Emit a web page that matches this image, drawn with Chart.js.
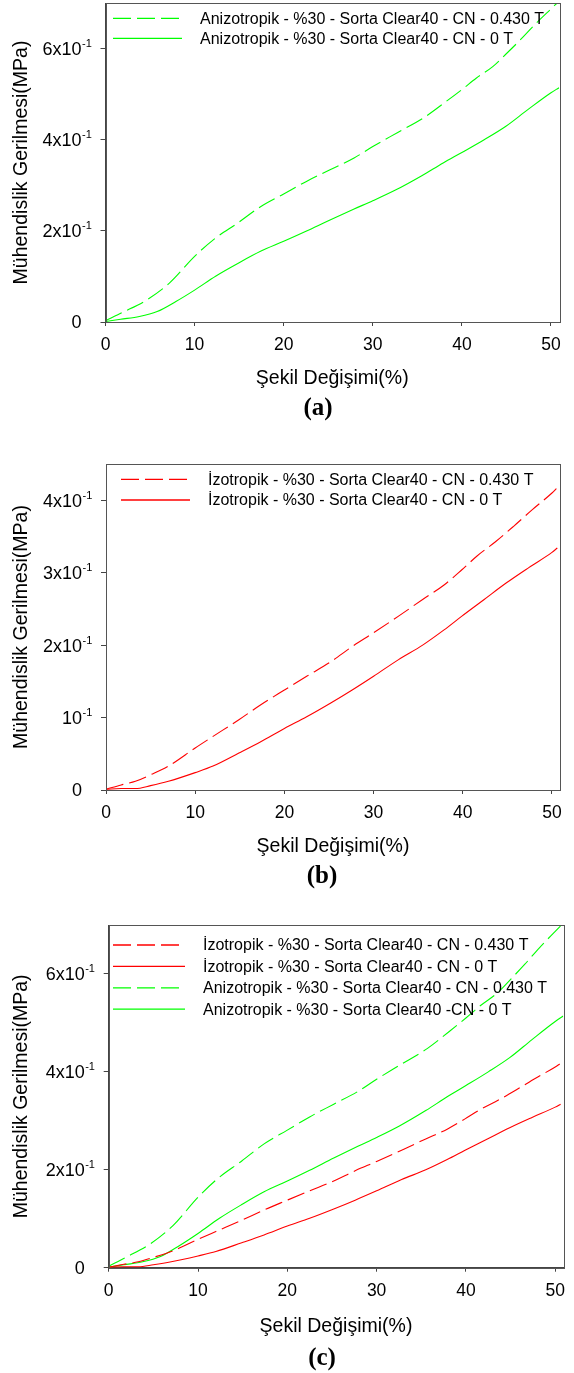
<!DOCTYPE html>
<html>
<head>
<meta charset="utf-8">
<script src="https://cdn.jsdelivr.net/npm/chart.js@4.4.1/dist/chart.umd.min.js"></script>
<style>
  body { margin: 0; background: #fff; width: 574px; height: 1373px; position: relative; overflow: hidden; }
  canvas { position: absolute; left: 0; }
</style>
</head>
<body>
<canvas id="chartA" width="574" height="430" style="top:0px"></canvas>
<canvas id="chartB" width="574" height="450" style="top:440px"></canvas>
<canvas id="chartC" width="574" height="473" style="top:900px"></canvas>
<script>
// strain (%) / stress (MPa) curves
var anizo430X = [0, 1.9, 4.6, 7.2, 10, 12.2, 14.9, 17.4, 20, 22.5, 25.2, 27.9, 30, 32.8, 35.7, 38.1, 40, 41.6, 43.5, 44.9, 46.6, 48.2, 50, 50.7];
var anizo430Y = [0.003, 0.021, 0.048, 0.086, 0.144, 0.182, 0.218, 0.253, 0.281, 0.308, 0.334, 0.36, 0.385, 0.416, 0.448, 0.482, 0.51, 0.535, 0.561, 0.587, 0.62, 0.653, 0.687, 0.70];

var anizo0X = [0, 1.7, 3.8, 5.8, 7.9, 10, 12.4, 14.9, 17.4, 20, 22.5, 25.2, 27.9, 30, 32.6, 35.5, 37.9, 40, 42.5, 44.9, 47.4, 50, 50.9];
var anizo0Y = [0.001, 0.006, 0.012, 0.023, 0.045, 0.07, 0.101, 0.129, 0.155, 0.177, 0.199, 0.224, 0.248, 0.266, 0.29, 0.321, 0.349, 0.372, 0.4, 0.429, 0.466, 0.503, 0.514];

var iso430X = [0, 1.7, 3.3, 5, 7, 10, 12, 14.9, 17.4, 20, 22.5, 25.2, 27.6, 30, 32.8, 35.5, 37.9, 39.9, 41.6, 43.7, 45.7, 47.8, 50, 50.5];
var iso430Y = [0.001, 0.007, 0.012, 0.021, 0.033, 0.058, 0.074, 0.097, 0.118, 0.138, 0.157, 0.177, 0.198, 0.217, 0.24, 0.263, 0.283, 0.304, 0.323, 0.343, 0.364, 0.387, 0.41, 0.416];

var iso0X = [0, 1.7, 3.3, 5, 7, 10, 12, 14.9, 17.4, 20, 22.5, 25.2, 27.6, 30, 32.8, 35.5, 37.9, 39.9, 42.4, 44.9, 47.4, 50, 50.6];
var iso0Y = [0.001, 0.002, 0.002, 0.006, 0.012, 0.024, 0.033, 0.051, 0.067, 0.085, 0.101, 0.12, 0.138, 0.157, 0.18, 0.2, 0.221, 0.24, 0.263, 0.286, 0.307, 0.328, 0.334];

// axis ticks
var xTicks = [0, 10, 20, 30, 40, 50];
var xTickText = ['0', '10', '20', '30', '40', '50'];
var yTicksAC = [0, 0.2, 0.4, 0.6];
var yTickTextAC = ['0', '2x10', '4x10', '6x10'];
var yTicksB = [0, 0.1, 0.2, 0.3, 0.4];
var yTickTextB = ['0', '10', '2x10', '3x10', '4x10'];
var yTickExp = '-1';

var xTitle = 'Şekil Değişimi(%)';
var yTitle = 'Mühendislik Gerilmesi(MPa)';

var GREEN = '#00ff00';
var RED = '#ff0000';
var DASH = [18, 6];
var FONT = "'Liberation Sans', Arial, sans-serif";

function pts(xs, ys) {
    var out = [];
    for (var i = 0; i < xs.length; i++) out.push({ x: xs[i], y: ys[i] });
    return out;
}

function series(label, xs, ys, color, dashed) {
    return {
        label: label,
        data: pts(xs, ys),
        borderColor: color,
        borderWidth: 1.1,
        borderDash: dashed ? DASH : [],
        pointRadius: 0,
        fill: false,
        cubicInterpolationMode: 'monotone'
    };
}

// frame, exponent tick labels, legend and panel letter
var panelDecor = {
    id: 'panelDecor',
    afterDraw: function (chart, args, opts) {
        var ctx = chart.ctx;
        var area = chart.chartArea;
        ctx.save();

        ctx.strokeStyle = '#555';
        ctx.lineWidth = 1;
        ctx.strokeRect(Math.round(area.left) + 0.5, Math.round(area.top) + 0.5,
            Math.round(area.right - area.left), Math.round(area.bottom - area.top));

        var yScale = chart.scales.y;
        var mainRight = area.left - 24;
        ctx.fillStyle = '#000';
        yScale.ticks.forEach(function (t, i) {
            var py = yScale.getPixelForValue(t.value);
            ctx.textAlign = 'right';
            ctx.textBaseline = 'alphabetic';
            ctx.font = '18px ' + FONT;
            ctx.fillText(opts.yLabels[i], mainRight, py + 6.4);
            if (t.value !== 0) {
                ctx.textAlign = 'left';
                ctx.font = '11px ' + FONT;
                ctx.fillText(yTickExp, mainRight + 0.5, py - 1.5);
            }
        });

        var lg = opts.legend;
        chart.data.datasets.forEach(function (ds, i) {
            var ly = lg.y + i * lg.step;
            ctx.strokeStyle = ds.borderColor;
            ctx.lineWidth = 1.3;
            ctx.setLineDash(ds.borderDash);
            ctx.beginPath();
            ctx.moveTo(lg.x0, ly);
            ctx.lineTo(lg.x1, ly);
            ctx.stroke();
            ctx.setLineDash([]);
            ctx.fillStyle = '#000';
            ctx.font = '16px ' + FONT;
            ctx.textAlign = 'left';
            ctx.textBaseline = 'middle';
            ctx.fillText(ds.label, lg.textX, ly + 1);
        });

        ctx.font = "bold 25px 'Liberation Serif', 'Times New Roman', serif";
        ctx.textAlign = 'center';
        ctx.textBaseline = 'middle';
        ctx.fillStyle = '#000';
        ctx.fillText(opts.letter.text, opts.letter.x, opts.letter.y);
        ctx.restore();
    }
};

function makePanel(id, box, datasets, yMax, yTicks, yLabels, legend, letter) {
    var canvas = document.getElementById(id);
    var H = canvas.height;
    var lh = 19.5 * 1.2;
    var xHeight = box.xTitleY - box.bottom + lh / 2;
    return new Chart(canvas.getContext('2d'), {
        type: 'line',
        data: { datasets: datasets },
        options: {
            responsive: false,
            animation: false,
            layout: {
                autoPadding: false,
                padding: { left: 0, top: box.top, right: 574 - box.right, bottom: H - box.bottom - xHeight }
            },
            plugins: {
                legend: { display: false },
                tooltip: { enabled: false },
                panelDecor: { yLabels: yLabels, legend: legend, letter: letter }
            },
            scales: {
                x: {
                    type: 'linear',
                    min: 0,
                    max: 50.9,
                    afterBuildTicks: function (scale) {
                        scale.ticks = xTicks.map(function (v) { return { value: v }; });
                    },
                    afterFit: function (scale) { scale.height = xHeight; },
                    ticks: {
                        color: '#000',
                        font: { family: FONT, size: 17.5 },
                        padding: 9,
                        maxRotation: 0,
                        callback: function (v) { return xTickText[xTicks.indexOf(v)]; }
                    },
                    grid: { drawOnChartArea: false, drawTicks: true, tickLength: 4, color: '#444' },
                    border: { display: true, color: '#444' },
                    title: {
                        display: true,
                        text: xTitle,
                        color: '#000',
                        font: { family: FONT, size: 19.5 },
                        padding: 0
                    }
                },
                y: {
                    type: 'linear',
                    min: 0,
                    max: yMax,
                    afterBuildTicks: function (scale) {
                        scale.ticks = yTicks.map(function (v) { return { value: v }; });
                    },
                    afterFit: function (scale) { scale.width = box.left; },
                    ticks: { display: false },
                    grid: { drawOnChartArea: false, drawTicks: true, tickLength: 5, color: '#444' },
                    border: { display: true, color: '#444' },
                    title: {
                        display: true,
                        text: yTitle,
                        color: '#000',
                        font: { family: FONT, size: 19.5 },
                        padding: { top: 9.5, bottom: 0 }
                    }
                }
            }
        },
        plugins: [panelDecor]
    });
}

var labelAnizo430 = 'Anizotropik - %30 - Sorta Clear40 - CN - 0.430 T';
var labelAnizo0 = 'Anizotropik - %30 - Sorta Clear40 - CN - 0 T';
var labelIso430 = 'İzotropik - %30 - Sorta Clear40 - CN - 0.430 T';
var labelIso0 = 'İzotropik - %30 - Sorta Clear40 - CN - 0 T';

// (a) anisotropic samples
makePanel('chartA',
    { left: 105.5, right: 559, top: 3, bottom: 322, xTitleY: 379 },
    [series(labelAnizo430, anizo430X, anizo430Y, GREEN, true),
     series(labelAnizo0, anizo0X, anizo0Y, GREEN, false)],
    0.70, yTicksAC, yTickTextAC,
    { x0: 113, x1: 182, textX: 200, y: 18.3, step: 20 },
    { text: '(a)', x: 318, y: 408.5 });

// (b) isotropic samples
makePanel('chartB',
    { left: 106, right: 560, top: 24, bottom: 350, xTitleY: 407 },
    [series(labelIso430, iso430X, iso430Y, RED, true),
     series(labelIso0, iso0X, iso0Y, RED, false)],
    0.45, yTicksB, yTickTextB,
    { x0: 121, x1: 190, textX: 208, y: 39.3, step: 20.7 },
    { text: '(b)', x: 322, y: 437 });

// (c) both together
makePanel('chartC',
    { left: 108.7, right: 572.3, top: 25, bottom: 367.7, xTitleY: 427 },
    [series(labelIso430, iso430X, iso430Y, RED, true),
     series(labelIso0, iso0X, iso0Y, RED, false),
     series(labelAnizo430, anizo430X, anizo430Y, GREEN, true),
     series('Anizotropik - %30 - Sorta Clear40 -CN - 0 T', anizo0X, anizo0Y, GREEN, false)],
    0.70, yTicksAC, yTickTextAC,
    { x0: 113, x1: 185, textX: 203, y: 45, step: 21.4 },
    { text: '(c)', x: 322, y: 458.5 });
</script>
</body>
</html>
